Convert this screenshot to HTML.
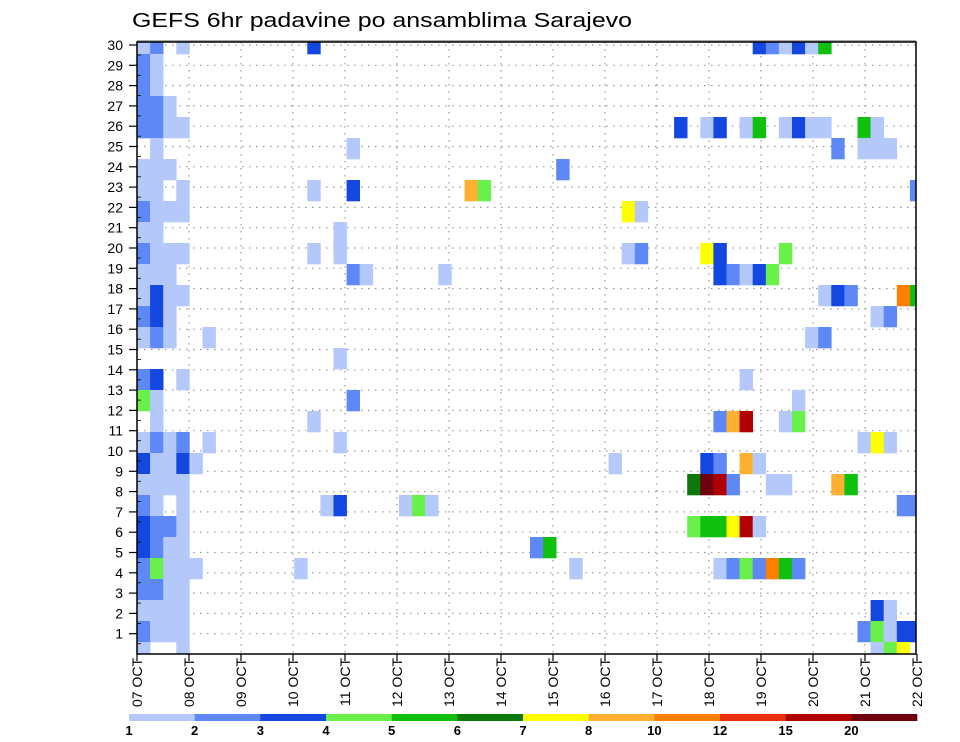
<!DOCTYPE html>
<html><head><meta charset="utf-8"><style>
html,body{margin:0;padding:0;background:#fff;}
svg{display:block;font-family:"Liberation Sans",sans-serif;}
</style></head><body>
<svg id="chart" width="960" height="742" viewBox="0 0 960 742" xmlns="http://www.w3.org/2000/svg">
<text x="132" y="27" font-size="20" textLength="500" lengthAdjust="spacingAndGlyphs">GEFS 6hr padavine po ansamblima Sarajevo</text>
<g id="grid"></g>
<g id="cells"></g>
<g id="axes"></g>
<g id="legend"></g>
</svg>
<script>
// ---- data ----
const members = [30,29,28,27,26,25,24,23,22,21,20,19,18,17,16,15,14,13,12,11,10,9,8,7,6,5,4,3,2,1];
// step:levelIndex pairs per member (level index into binColors)
const memberCells = [
"0:1,1:2,3:1,13:3,47:3,48:2,49:1,50:3,51:1,52:5",
"0:2,1:1",
"0:2,1:1",
"0:2,1:2,2:1",
"0:2,1:2,2:1,3:1,41:3,43:1,44:3,46:1,47:5,49:1,50:3,51:1,52:1,55:5,56:1",
"1:1,16:1,53:2,55:1,56:1,57:1",
"0:1,1:1,2:1,32:2",
"0:1,1:1,3:1,13:1,16:3,25:8,26:4,59:2",
"0:2,1:1,2:1,3:1,37:7,38:1",
"0:1,1:1,15:1",
"0:2,1:1,2:1,3:1,13:1,15:1,37:1,38:2,43:7,44:3,49:4",
"0:1,1:1,2:1,16:2,17:1,23:1,44:3,45:2,46:1,47:3,48:4",
"0:1,1:3,2:1,3:1,52:1,53:3,54:2,58:9,59:5",
"0:2,1:3,2:1,56:1,57:2",
"0:1,1:2,2:1,5:1,51:1,52:2",
"15:1",
"0:2,1:3,3:1,46:1",
"0:4,1:1,16:2,50:1",
"1:1,13:1,44:2,45:8,46:11,49:1,50:4",
"0:1,1:2,2:1,3:2,5:1,15:1,55:1,56:7,57:1",
"0:3,1:1,2:1,3:3,4:1,36:1,43:3,44:2,46:8,47:1",
"0:1,1:1,2:1,3:1,42:6,43:12,44:11,45:2,48:1,49:1,53:8,54:5",
"0:2,1:1,3:1,14:1,15:3,20:1,21:4,22:1,58:2,59:2",
"0:3,1:2,2:2,3:1,42:4,43:5,44:5,45:7,46:11,47:1",
"0:3,1:2,2:1,3:1,30:2,31:5",
"0:2,1:4,2:1,3:1,4:1,12:1,33:1,44:1,45:2,46:4,47:2,48:9,49:5,50:2",
"0:2,1:2,2:1,3:1",
"0:1,1:1,2:1,3:1,56:3,57:1",
"0:2,1:1,2:1,3:1,55:2,56:4,57:1,58:3,59:3",
"0:1,3:1,56:1,57:4,58:7"
];
const binLabels = ["1","2","3","4","5","6","7","8","10","12","15","20"];
const binColors = ["#ffffff","#b4c8fa","#5f88f7","#1446e0","#6af04a","#0fc00f","#0a780a","#ffff00","#ffb030","#ff8000","#e83010","#b00000","#700010"];
const dateLabels = ["07 OCT","08 OCT","09 OCT","10 OCT","11 OCT","12 OCT","13 OCT","14 OCT","15 OCT","16 OCT","17 OCT","18 OCT","19 OCT","20 OCT","21 OCT","22 OCT"];
const yTickLabels = [1,2,3,4,5,6,7,8,9,10,11,12,13,14,15,16,17,18,19,20,21,22,23,24,25,26,27,28,29,30];

// ---- scales ----
const NS="http://www.w3.org/2000/svg";
const X0=137,X1=916,Y0=42,Y1=654,CW=13.1,RH=21;
function xStep(s){return X0+CW*s;}
function yMemberTop(m){return 54+RH*(29-m);}
function yLabel(k){return 654-k*20.3;}
function xDay(d){return 137+52*d;}
function mk(tag,attrs,parent){const e=document.createElementNS(NS,tag);for(const k in attrs)e.setAttribute(k,attrs[k]);parent.appendChild(e);return e;}

const grid=document.getElementById('grid');
yTickLabels.forEach(k=>{
  const l=mk('line',{x1:X0,x2:X1,y1:yLabel(k),y2:yLabel(k),stroke:'#999','stroke-width':1.2,'stroke-dasharray':'1.5,5.5'},grid);
  
  
});
dateLabels.forEach((d,i)=>{
  if(i===0||i===dateLabels.length-1)return;
  const l=mk('line',{x1:xDay(i),x2:xDay(i),y1:Y0,y2:Y1,stroke:'#999','stroke-width':1.2,'stroke-dasharray':'1.5,5.5'},grid);
  
  
});

const cells=document.getElementById('cells');
members.forEach((m,i)=>{
  if(!memberCells[i])return;
  memberCells[i].split(',').forEach(p=>{
    const [s,lv]=p.split(':').map(Number);
    let x=xStep(s),w=CW,y=yMemberTop(m),h=RH;
    if(x+w>X1)w=X1-x;
    if(y<Y0){h-=Y0-y;y=Y0;}
    if(y+h>Y1)h=Y1-y;
    const r=mk('rect',{x:x.toFixed(2),y:y.toFixed(2),width:(w+0.3).toFixed(2),height:(h+0.3).toFixed(2),fill:binColors[lv]},cells);
    
    
  });
});

const axes=document.getElementById('axes');
mk('rect',{x:X0,y:Y0,width:X1-X0,height:Y1-Y0,fill:'none',stroke:'#000','stroke-width':1.5},axes);
mk('line',{x1:X0,x2:X1,y1:Y0-1,y2:Y0-1,stroke:'#555','stroke-width':1},axes);
yTickLabels.forEach(k=>{
  const y=yLabel(k);
  mk('line',{x1:X0-8,x2:X0,y1:y,y2:y,stroke:'#000','stroke-width':1.2},axes);
  const t=mk('text',{x:123,y:y+5,'font-size':14,'text-anchor':'end'},axes);
  t.textContent=k;
  
  
  mk('line',{x1:X0,x2:X0+4,y1:y+10,y2:y+10,stroke:'#000','stroke-width':0.8},axes);
});
dateLabels.forEach((d,i)=>{
  const x=xDay(i);
  mk('line',{x1:x,x2:x,y1:Y1,y2:Y1+7,stroke:'#000','stroke-width':1.2},axes);
  const t=mk('text',{transform:'translate('+(x+5)+',658) rotate(-90)','font-size':14,'text-anchor':'end'},axes);
  t.textContent=d;
  
  
});

const legend=document.getElementById('legend');
const LX0=129,LX1=917,LW=(LX1-LX0)/12;
for(let i=1;i<binColors.length;i++){
  const r=mk('rect',{x:LX0+(i-1)*LW,y:714,width:LW+0.3,height:7,fill:binColors[i]},legend);
  
  
}
binLabels.forEach((b,i)=>{
  const t=mk('text',{x:LX0+i*LW,y:735,'font-size':13,'font-weight':'bold','text-anchor':'middle'},legend);
  t.textContent=b;
  
  
});
</script>
</body></html>
